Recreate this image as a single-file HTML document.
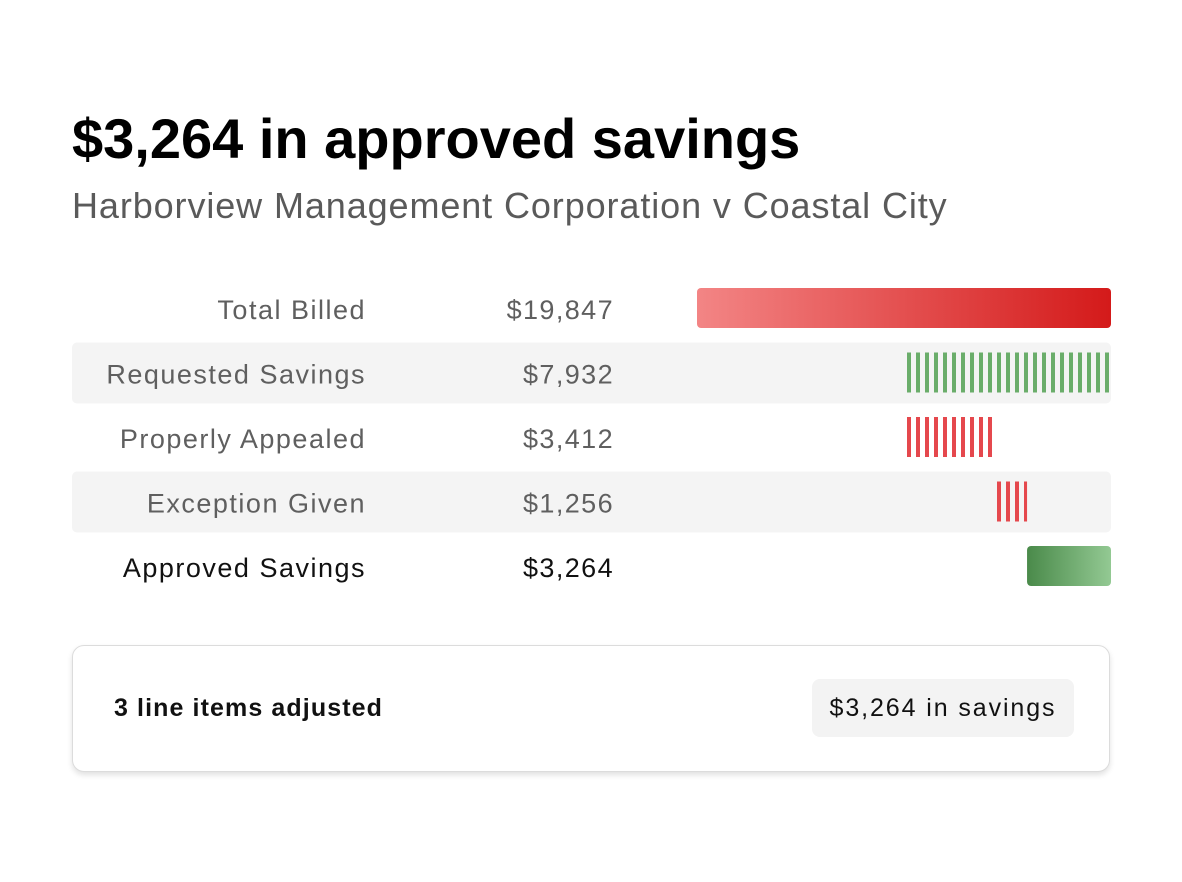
<!DOCTYPE html>
<html><head><meta charset="utf-8"><style>
body{margin:0;width:1182px;height:882px;background:#fff;font-family:"Liberation Sans",sans-serif;position:relative;overflow:hidden}
.t{position:absolute;white-space:nowrap}
</style></head><body>
<div class="t" style="left:72px;top:106px;font-size:56px;font-weight:bold;color:#000;letter-spacing:0px">$3,264 in approved savings</div>
<div class="t" style="left:72px;top:185px;font-size:36px;color:#5a5a5a;letter-spacing:0.9px">Harborview Management Corporation v Coastal City</div>
<svg id="chart" width="1182" height="620" style="position:absolute;left:0;top:0">
<defs>
<linearGradient id="gRed" x1="0" x2="1"><stop offset="0" stop-color="#f38585"/><stop offset="1" stop-color="#d41a1a"/></linearGradient>
<linearGradient id="gGreen" x1="0" x2="1"><stop offset="0" stop-color="#4a8a4a"/><stop offset="1" stop-color="#93c993"/></linearGradient>
<pattern id="pGreen" width="9" height="10" patternUnits="userSpaceOnUse" x="907"><rect width="4" height="10" fill="#6aad6a"/></pattern>
<pattern id="pRed" width="9" height="10" patternUnits="userSpaceOnUse" x="907"><rect width="4" height="10" fill="#e5484d"/></pattern>
</defs>
</svg>
<div style="position:absolute;left:72px;top:645px;width:1036px;height:125px;border:1.5px solid #dcdcdc;border-radius:12px;box-shadow:0 3px 6px rgba(0,0,0,0.12);background:#fff">
<div class="t" style="left:41px;top:48px;font-size:25px;font-weight:bold;color:#111;letter-spacing:1.1px">3 line items adjusted</div>
<div class="t" style="left:739px;top:33px;width:262px;height:58px;line-height:58px;text-align:center;background:#f3f3f3;border-radius:8px;font-size:25px;color:#111;letter-spacing:1.9px">$3,264 in savings</div>
</div>
<script>
const categories=["Total Billed","Requested Savings","Properly Appealed","Exception Given","Approved Savings"];
const values=[19847,7932,3412,1256,3264];
const labels=["$19,847","$7,932","$3,412","$1,256","$3,264"];
const svg=document.getElementById('chart');
const NS='http://www.w3.org/2000/svg';
const trackL=697,trackR=1111,rowTop=278,rowH=64.5;
const xs=v=>v*204/7932; // savings scale (px per $)
function mk(t,a){const e=document.createElementNS(NS,t);for(const k in a)e.setAttribute(k,a[k]);svg.appendChild(e);return e;}
const req=values[1];
let cursor=trackR-xs(req);
categories.forEach((c,i)=>{
  const y=rowTop+i*rowH;
  if(i%2===1){const bg=mk('rect',{x:72,y:y,width:1039,height:61,rx:5,fill:'#f4f4f4'});
    
    }
  const last=i===categories.length-1;
  const lt=mk('text',{x:366,y:y+41,'text-anchor':'end','font-size':27,'letter-spacing':1.5,fill:last?'#111':'#5f5f5f'});
  lt.textContent=c;
  
  
  const vt=mk('text',{x:614,y:y+41,'text-anchor':'end','font-size':27,'letter-spacing':1.4,fill:last?'#111':'#5f5f5f'});
  vt.textContent=labels[i];
  
  
  let x,w,fill;
  if(i===0){x=trackL;w=(trackR-trackL)*values[0]/values[0];fill='url(#gRed)';}
  else if(i===1){w=xs(values[1]);x=trackR-w;fill='url(#pGreen)';}
  else if(last){w=xs(values[i]);x=trackR-w;fill='url(#gGreen)';}
  else {w=xs(values[i]);x=cursor;cursor+=w;fill='url(#pRed)';}
  const b=mk('rect',{x:x,y:y+10,width:w,height:40,rx:(i===0||last)?4:0,fill:fill});
  
  
});
</script>
</body></html>
